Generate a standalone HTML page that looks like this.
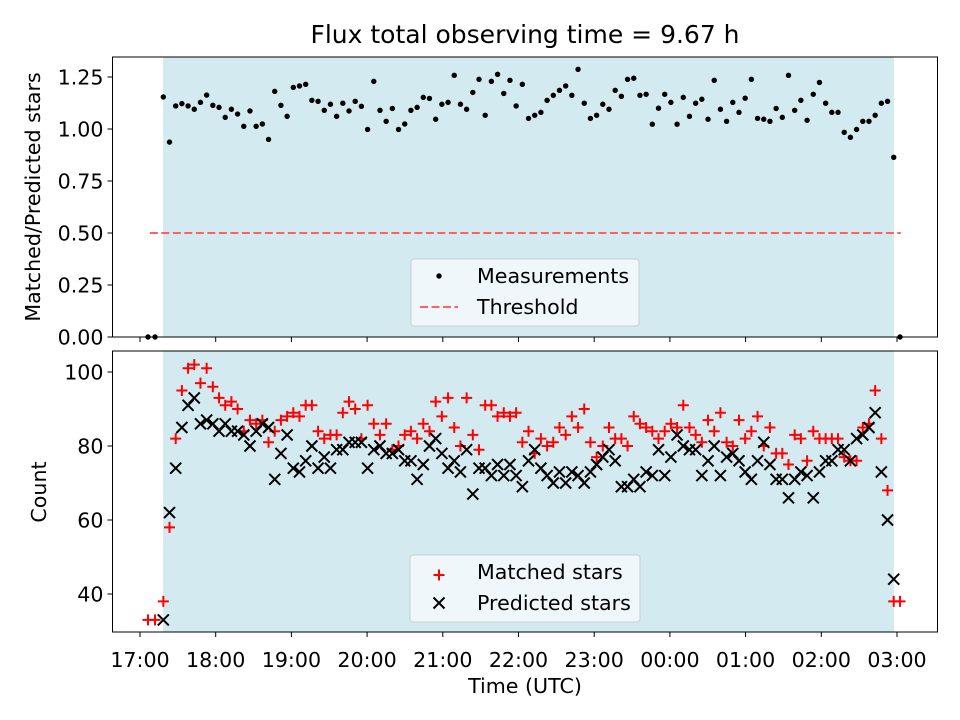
<!DOCTYPE html>
<html><head><meta charset="utf-8"><style>
body{margin:0;background:#fff;}
svg{display:block;font-family:"DejaVu Sans","Liberation Sans",sans-serif;}
</style></head><body>
<svg id="chart" width="960" height="720" viewBox="0 0 960 720"></svg>
<script>
// ---- data ----
const startHour = 17.308;      // first sample time (hours)
const stepHours = 0.08177;     // sampling interval (hours)
const ratioValues = [1.154,0.937,1.111,1.122,1.111,1.095,1.128,1.163,1.114,1.104,1.056,1.095,1.072,1.013,1.087,1.013,1.024,0.950,1.181,1.114,1.061,1.200,1.207,1.215,1.138,1.133,1.090,1.119,1.061,1.124,1.087,1.133,1.109,0.998,1.229,1.090,1.037,1.099,0.998,1.024,1.090,1.104,1.152,1.147,1.047,1.119,1.128,1.258,1.119,1.095,1.176,1.239,1.066,1.229,1.263,1.171,1.234,
1.111,1.215,1.051,1.066,1.080,1.138,1.162,1.186,1.207,1.162,1.287,1.124,1.051,1.066,1.119,1.095,1.186,1.157,1.239,1.244,1.162,1.167,1.023,1.10,1.167,1.128,1.023,1.152,1.061,1.124,1.143,1.047,1.234,1.095,1.037,1.128,1.080,1.148,1.239,1.051,1.047,1.037,1.099,1.056,1.258,1.09,1.138,1.042,1.167,1.224,1.124,1.080,1.080,0.984,0.960,0.998,1.037,1.037,1.066,1.124,1.133,0.864];
const matchedValues = [38,58,82,95,101,102,97,101,96,93,91,92,90,84,87,86,87,81,84,87,88,89,88,91,91,84,82,
83,83,89,92,90,82,91,86,83,86,79,80,83,84,82,86,84,92,88,93,85,80,93,83,79,91,91,88,89,
88,89,81,84,78,82,80,81,85,83,88,85,90,81,77,80,85,82,82,80,88,86,85,84,82,84,86,85,91,85,83,
81,87,84,89,81,80,87,82,84,88,80,85,78,78,75,83,82,76,84,82,82,82,82,77,76,76,85,86,
95,82,68,38];
const predictedValues = [33,62,74,85,91,93,86,87,86,84,86,84,84,83,80,84,86,85,71,78,83,74,73,76,80,74,77,
74,79,79,81,81,81,74,79,80,78,78,79,76,76,71,75,80,82,78,74,76,73,79,67,74,74,72,75,72,
75,72,69,76,79,74,72,70,73,70,73,72,70,73,75,77,79,76,69,69,71,69,73,72,79,72,77,83,80,79,79,
72,76,80,72,77,78,76,73,71,76,81,75,71,71,66,71,73,72,66,73,76,76,79,79,76,82,83,85,
89,73,60,44];
const extraTimes = [17.106,17.198,27.04];
const extraRatio = [0,0,0];
const extraMatched = [33,33,38];
const thresholdValue = 0.5;
const thresholdRange = [17.13, 27.05];
const shadeRange = [17.305, 26.96];
const xTickHours = [17,18,19,20,21,22,23,24,25,26,27];
const xTickLabels = ["17:00","18:00","19:00","20:00","21:00","22:00","23:00","00:00","01:00","02:00","03:00"];
const topTicks = [0,0.25,0.5,0.75,1.0,1.25];
const topTickLabels = ["0.00","0.25","0.50","0.75","1.00","1.25"];
const botTicks = [40,60,80,100];
const botTickLabels = ["40","60","80","100"];

// ---- geometry ----
const L=112.5,R=937.5, T1=57,B1=337, T2=351,B2=632;
const X=h=>140+(h-17)*75.7;
const Y1=v=>337-v*208;
const Y2=v=>372+(100-v)*3.7;
const FS=20.6;
const svg=document.getElementById('chart');
const NS='http://www.w3.org/2000/svg';
function mk(tag,attrs,parent){const e=document.createElementNS(NS,tag);for(const k in attrs)e.setAttribute(k,attrs[k]);(parent||svg).appendChild(e);return e;}
function txt(s,attrs,parent){const e=mk('text',attrs,parent);e.textContent=s;return e;}

function drawAxes(top,bottom,name){
  const g=mk('g',{});
  
  
  const sh=mk('rect',{x:X(shadeRange[0]),y:top,width:X(shadeRange[1])-X(shadeRange[0]),height:bottom-top,fill:'#d4eaf1'},g);
  
  
  return g;
}
function frame(top,bottom,name){
  const f=mk('rect',{x:L,y:top,width:R-L,height:bottom-top,fill:'none',stroke:'#000','stroke-width':1});
  
  
}
const t=i=>startHour+i*stepHours;

// top axes
const gTop=drawAxes(T1,B1,'ratio-axes');
const thr=mk('line',{x1:X(thresholdRange[0]),x2:X(thresholdRange[1]),y1:Y1(thresholdValue),y2:Y1(thresholdValue),stroke:'#ff6060','stroke-width':2,'stroke-dasharray':'8,3.5'},gTop);


ratioValues.forEach((v,i)=>{
  const c=mk('circle',{cx:X(t(i)),cy:Y1(v),r:2.7,fill:'#000'},gTop);
  
  
});
extraTimes.forEach((h,i)=>{
  const c=mk('circle',{cx:X(h),cy:Y1(extraRatio[i]),r:2.7,fill:'#000'},gTop);
  
  
});
frame(T1,B1,'ratio-axes-frame');

// bottom axes
const gBot=drawAxes(T2,B2,'count-axes');
function plus(cx,cy,g){const p=mk('path',{d:`M${cx-5.5},${cy}H${cx+5.5}M${cx},${cy-5.5}V${cy+5.5}`,stroke:'#ff0000','stroke-width':2},g);}
function cross(cx,cy,g){const p=mk('path',{d:`M${cx-5.5},${cy-5.5}L${cx+5.5},${cy+5.5}M${cx-5.5},${cy+5.5}L${cx+5.5},${cy-5.5}`,stroke:'#000','stroke-width':2},g);}
matchedValues.forEach((v,i)=>plus(X(t(i)),Y2(v),gBot));
extraTimes.forEach((h,i)=>plus(X(h),Y2(extraMatched[i]),gBot));
predictedValues.forEach((v,i)=>cross(X(t(i)),Y2(v),gBot));
frame(T2,B2,'count-axes-frame');

// ticks
xTickHours.forEach((h,i)=>{
  mk('line',{x1:X(h),x2:X(h),y1:B1,y2:B1+5,stroke:'#000'});
  mk('line',{x1:X(h),x2:X(h),y1:B2,y2:B2+5,stroke:'#000'});
  const l=txt(xTickLabels[i],{x:X(h),y:B2+35,'text-anchor':'middle','font-size':FS});
  
  
});
topTicks.forEach((v,i)=>{
  mk('line',{x1:L-5,x2:L,y1:Y1(v),y2:Y1(v),stroke:'#000'});
  const l=txt(topTickLabels[i],{x:L-9,y:Y1(v)+7.5,'text-anchor':'end','font-size':FS});
  
  
});
botTicks.forEach((v,i)=>{
  mk('line',{x1:L-5,x2:L,y1:Y2(v),y2:Y2(v),stroke:'#000'});
  const l=txt(botTickLabels[i],{x:L-9,y:Y2(v)+7.5,'text-anchor':'end','font-size':FS});
  
  
});

// titles
const title=txt('Flux total observing time = 9.67 h',{x:525,y:43,'text-anchor':'middle','font-size':25});


const xl=txt('Time (UTC)',{x:525,y:693,'text-anchor':'middle','font-size':FS});


const yl1=txt('Matched/Predicted stars',{x:0,y:0,'text-anchor':'middle','font-size':FS,transform:'translate(40,197) rotate(-90)'});


const yl2=txt('Count',{x:0,y:0,'text-anchor':'middle','font-size':FS,transform:'translate(46,492) rotate(-90)'});



// legends
const lg1=mk('g',{});


mk('rect',{x:411,y:259,width:228,height:67,rx:3,fill:'#f5f9fb','fill-opacity':0.85,stroke:'#ccc'},lg1);
mk('circle',{cx:439,cy:276,r:2.7,fill:'#000'},lg1);
txt('Measurements',{x:477,y:283,'font-size':FS},lg1);
mk('line',{x1:420,x2:458,y1:307,y2:307,stroke:'#ff6060','stroke-width':2,'stroke-dasharray':'8,3.5'},lg1);
txt('Threshold',{x:477,y:314,'font-size':FS},lg1);

const lg2=mk('g',{});


mk('rect',{x:410,y:555,width:230,height:67,rx:3,fill:'#f5f9fb','fill-opacity':0.85,stroke:'#ccc'},lg2);
plus(439,575,lg2);
txt('Matched stars',{x:477,y:579,'font-size':FS},lg2);
cross(439,603,lg2);
txt('Predicted stars',{x:477,y:610,'font-size':FS},lg2);
</script>
</body></html>
